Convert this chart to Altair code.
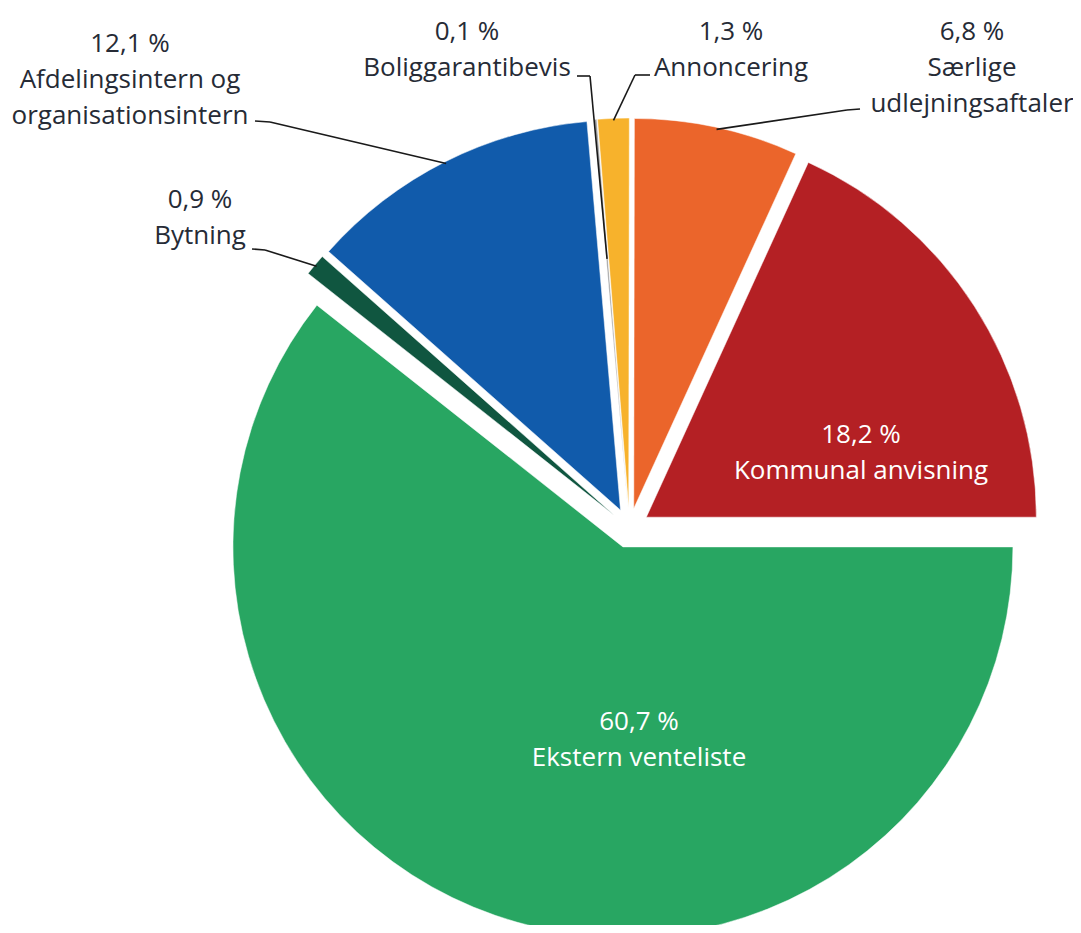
import altair as alt
import pandas as pd

# ---- data ----
categories = ["Ekstern venteliste", "Bytning", "Afdelingsintern og organisationsintern",
              "Boliggarantibevis", "Annoncering", "Særlige udlejningsaftaler", "Kommunal anvisning"]
display_names = ["Ekstern venteliste", "Bytning", "Afdelingsintern og\norganisationsintern",
                 "Boliggarantibevis", "Annoncering", "Særlige\nudlejningsaftaler", "Kommunal anvisning"]
values = [60.7, 0.9, 12.1, 0.1, 1.3, 6.8, 18.2]
colors = ["#28A662", "#105640", "#115BAB", "#9A9A9A", "#F7B22C", "#EB652B", "#B42024"]

# ---- label layout (annotation placement, chart pixels; y = first text line) ----
label_x = [631, 192, 122, 459, 723, 964, 853]
label_y = [714, 192, 36, 24, 24, 24, 427]
label_color = ["white", "#262B36", "#262B36", "#262B36", "#262B36", "#262B36", "white"]
lead_sx = [None, 244, 247, 569, 642, 852, None]
lead_sy = [None, 241, 113, 68, 67, 101, None]
lead_bx = [None, 257, 262, 582, 627, 839, None]
lead_by = [None, 242, 114, 68, 67, 102, None]
lead_r = [None, 388, 388, 250, 388, 388, None]

CX, CY, R, EXPLODE = 621.5, 520, 390, 20

df = pd.DataFrame({
    "order": list(range(len(categories))),
    "category": categories,
    "value": values,
    "label": [f"{v:.1f} %".replace(".", ",") + "\n" + n for v, n in zip(values, display_names)],
    "lx": label_x, "ly": label_y, "tcolor": label_color,
    "sx": lead_sx, "sy": lead_sy, "bx": lead_bx, "by": lead_by, "lr": lead_r,
})

base = alt.Chart(df).transform_window(
    cum="sum(value)", sort=[alt.SortField("order")], frame=[None, 0]
).transform_joinaggregate(
    total="sum(value)"
).transform_calculate(
    a0="PI/2 + 2*PI*(datum.cum - datum.value)/datum.total",
    a1="PI/2 + 2*PI*datum.cum/datum.total",
).transform_calculate(
    mid="(datum.a0 + datum.a1)/2"
).transform_calculate(
    cx=f"{CX} + {EXPLODE}*sin(datum.mid)",
    cy=f"{CY} - {EXPLODE}*cos(datum.mid)",
).transform_calculate(
    ex="datum.cx + datum.lr*sin(datum.mid)",
    ey="datum.cy - datum.lr*cos(datum.mid)",
)

arcs = base.mark_arc(outerRadius=R, stroke="white", strokeWidth=0.5).encode(
    theta=alt.Theta("a0:Q", scale=None),
    theta2="a1:Q",
    x=alt.X("cx:Q", scale=None, axis=None),
    y=alt.Y("cy:Q", scale=None, axis=None),
    color=alt.Color("category:N", scale=alt.Scale(domain=categories, range=colors), legend=None),
)

leaders = base.transform_filter("isValid(datum.sx)")

seg1 = leaders.mark_rule(color="#1a1a1a", strokeWidth=1.6).encode(
    x=alt.X("sx:Q", scale=None, axis=None),
    y=alt.Y("sy:Q", scale=None, axis=None),
    x2="bx:Q",
    y2="by:Q",
)
seg2 = leaders.mark_rule(color="#1a1a1a", strokeWidth=1.6).encode(
    x=alt.X("bx:Q", scale=None, axis=None),
    y=alt.Y("by:Q", scale=None, axis=None),
    x2="ex:Q",
    y2="ey:Q",
)

texts = base.mark_text(
    font="Open Sans", fontSize=26, lineHeight=36, align="center", baseline="middle", lineBreak="\n"
).encode(
    x=alt.X("lx:Q", scale=None, axis=None),
    y=alt.Y("ly:Q", scale=None, axis=None),
    text="label:N",
    color=alt.Color("tcolor:N", scale=None),
)

chart = alt.layer(arcs, seg1, seg2, texts).properties(
    width=1065, height=917, padding=0,
    autosize=alt.AutoSizeParams(type="none"),
).configure_view(strokeWidth=0)

chart.save("out.html", embed_options={"renderer": "svg", "actions": False})
